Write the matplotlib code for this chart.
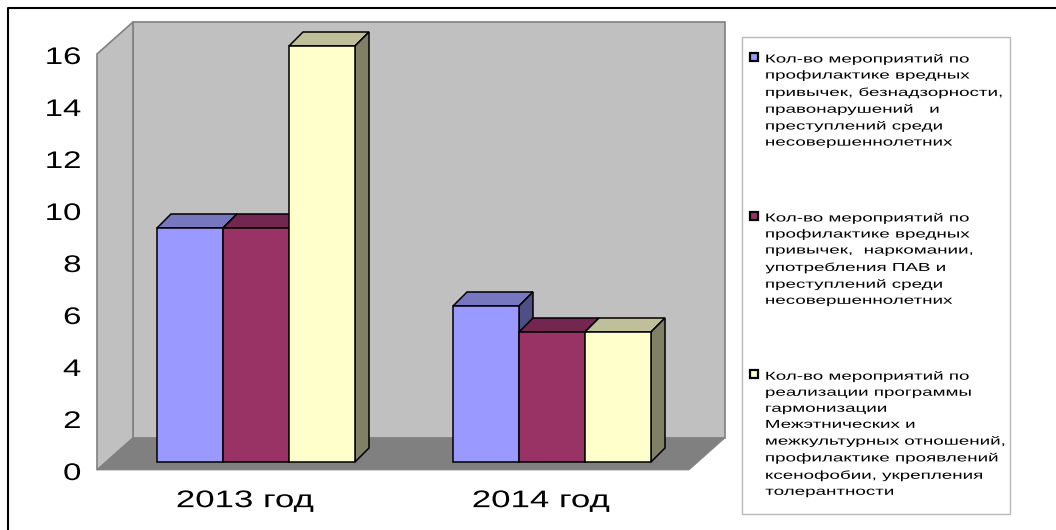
import matplotlib
matplotlib.use("Agg")
import matplotlib.pyplot as plt
from matplotlib.patches import Polygon, Rectangle
from matplotlib.lines import Line2D
from matplotlib.offsetbox import HPacker
from matplotlib.patheffects import AbstractPathEffect
from matplotlib.transforms import Affine2D, ScaledTranslation

categories = ["2013 год", "2014 год"]
series_a = [9, 6]
series_b = [9, 5]
series_c = [16, 5]
y_ticks = [0, 2, 4, 6, 8, 10, 12, 14, 16]
labels = [
    "Кол-во мероприятий по\nпрофилактике вредных\nпривычек, безнадзорности,\nправонарушений   и\nпреступлений среди\nнесовершеннолетних",
    "Кол-во мероприятий по\nпрофилактике вредных\nпривычек,  наркомании,\nупотребления ПАВ и\nпреступлений среди\nнесовершеннолетних",
    "Кол-во мероприятий по\nреализации программы\nгармонизации\nМежэтнических и\nмежкультурных отношений,\nпрофилактике проявлений\nксенофобии, укрепления\nтолерантности",
]
fronts = ["#9999FF", "#993366", "#FFFFCC"]
tops = ["#7777BF", "#732650", "#BFBF99"]
sides = ["#4F4F85", "#4D1A33", "#808066"]

W, H = 1056, 530
plt.rcParams["font.family"] = ["Liberation Sans", "DejaVu Sans"]


class Stretch(AbstractPathEffect):
    """Widen glyphs horizontally about an anchor; the reference text is stretched."""
    def __init__(self, sx, anchor="left"):
        super().__init__()
        self.sx, self.anchor = sx, anchor

    def draw_path(self, renderer, gc, tpath, affine, rgbFace=None):
        e = tpath.get_extents()
        a = {"left": e.x0, "center": (e.x0 + e.x1) / 2, "right": e.x1}[self.anchor]
        t = Affine2D().translate(-a, 0).scale(self.sx, 1).translate(a, 0) + affine
        renderer.draw_path(gc, tpath, t, rgbFace)


fig = plt.figure(figsize=(W / 100, H / 100), dpi=100, facecolor="white")
L, R, B, T = 97, 689, 470, 54
ax = fig.add_axes([L / W, 1 - B / H, (R - L) / W, (B - T) / H])
ax.set_xlim(-0.5, 1.5)
ax.set_ylim(0, 16)
ax.patch.set_visible(False)
for s in ax.spines.values():
    s.set_visible(False)

xu = (R - L) / 2       # pixels per category
yu = (B - T) / 16      # pixels per value unit

# walls and floor (depth in pixels converted to data units)
wdx, wdy = 36 / xu, 32 / yu
x0, x1 = -0.5, 1.5
wall = dict(facecolor="#C0C0C0", edgecolor="#808080", lw=1.2, clip_on=False, zorder=1)
ax.add_patch(Polygon([(x0 + wdx, wdy), (x1 + wdx, wdy), (x1 + wdx, 16 + wdy), (x0 + wdx, 16 + wdy)], **wall))
ax.add_patch(Polygon([(x0, 0), (x0 + wdx, wdy), (x0 + wdx, 16 + wdy), (x0, 16)], **wall))
ax.add_patch(Polygon([(x0, 0), (x1, 0), (x1 + wdx, wdy), (x0 + wdx, wdy)],
                     facecolor="#808080", edgecolor="#808080", lw=0.5, clip_on=False, zorder=2))

# 3-D bars
bw = 66 / xu
off_x, off_y = 11 / xu, 8 / yu
bdx, bdy = 14 / xu, 14 / yu
z = 3
for ci in range(len(categories)):
    for si, vals in enumerate([series_a, series_b, series_c]):
        v = vals[ci]
        left = ci + off_x + (si - 1.5) * bw
        right = left + bw
        top = off_y + v
        edge = dict(edgecolor="black", lw=1.1, joinstyle="miter", clip_on=False)
        ax.add_patch(Polygon([(left, top), (right, top), (right + bdx, top + bdy), (left + bdx, top + bdy)],
                             facecolor=tops[si], zorder=z, **edge))
        ax.add_patch(Polygon([(right, off_y), (right + bdx, off_y + bdy), (right + bdx, top + bdy), (right, top)],
                             facecolor=sides[si], zorder=z, **edge))
        ax.bar(left, v, width=bw, bottom=off_y, align="edge", color=fronts[si],
               edgecolor="black", lw=1.1, zorder=z + 0.5, clip_on=False)
        z += 1

ax.set_xticks(range(len(categories)))
ax.set_xticklabels(categories, fontsize=17.3, color="black")
ax.set_yticks(y_ticks)
ax.tick_params(axis="both", length=0)
ax.tick_params(axis="x", pad=14.5)
ax.tick_params(axis="y", pad=11.5, labelsize=17.3)
down = ScaledTranslation(0, -1.5 / 100, fig.dpi_scale_trans)
for t in ax.get_xticklabels():
    t.set_path_effects([Stretch(1.45, "center")])
for t in ax.get_yticklabels():
    t.set_path_effects([Stretch(1.37, "right")])
for tick in ax.yaxis.get_major_ticks():
    tick.label1.set_transform(tick.label1.get_transform() + down)

# outer frame (left and top edges are in view)
fig.add_artist(Line2D([7.5 / W, 7.5 / W, 1], [0, 1 - 7.5 / H, 1 - 7.5 / H], color="black", lw=1.5))

# legend box
fig.add_artist(Rectangle((742 / W, 1 - 514 / H), (1010 - 742) / W, (514 - 37) / H,
                         transform=fig.transFigure, facecolor="white", edgecolor="#B8B8B8", lw=1.0, zorder=0.5))

fs = 8.3
handles = [Rectangle((0, 0), 1, 1, facecolor=c, edgecolor="black", lw=1.6) for c in fronts]
leg = fig.legend(handles, labels, loc="upper left", bbox_to_anchor=(749.5 / W, 1 - 53 / H),
                 bbox_transform=fig.transFigure, frameon=False, fontsize=fs, borderpad=0, borderaxespad=0,
                 handlelength=0.72, handleheight=0.7, handletextpad=0.66, labelspacing=5.5, alignment="left")
for t in leg.get_texts():
    t.set_linespacing(1.45)
    t.set_path_effects([Stretch(1.63, "left")])
for hp in leg.findobj(HPacker):
    hp.align = "top"

fig.savefig("out.png", dpi=100)
